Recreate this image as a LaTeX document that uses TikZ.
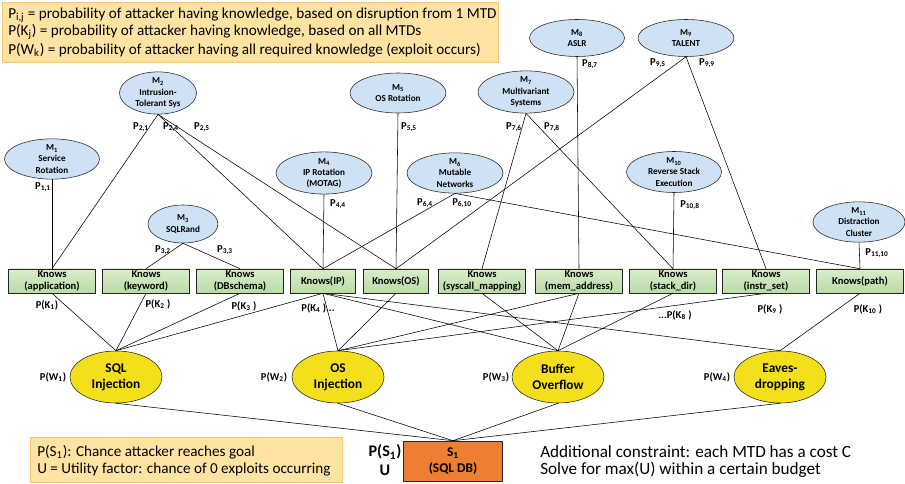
\documentclass[tikz,border=0pt]{standalone}
\usepackage{fontspec}
\setmainfont{Carlito}
\usetikzlibrary{shapes.geometric}

\definecolor{mtdblue}{HTML}{CFE1F4}
\definecolor{knowtop}{HTML}{D8EDCB}
\definecolor{knowbot}{HTML}{BADBA5}
\definecolor{expyellow}{HTML}{F3E01A}
\definecolor{goalorange}{HTML}{EE7E30}
\definecolor{notefill}{HTML}{FFE3A3}
\definecolor{noteedge}{HTML}{F9C46B}

\tikzset{
  mtd/.style={ellipse, draw=black!85, fill=mtdblue, inner sep=0pt, align=center,
    minimum width=2.4cm, minimum height=1cm, font=\bfseries\fontsize{6.5}{8}\selectfont},
  knows/.style={rectangle, draw=black!85, top color=knowtop, bottom color=knowbot, inner sep=0pt,
    align=center, minimum width=2.17cm, minimum height=0.6cm, font=\bfseries\fontsize{7.5}{8.6}\selectfont},
  exploit/.style={ellipse, draw=black!85, fill=expyellow, inner sep=0pt, align=center,
    minimum width=2.3cm, minimum height=1.3cm, font=\bfseries\fontsize{9.5}{11.5}\selectfont},
  goal/.style={rectangle, draw=black!85, fill=goalorange, inner sep=0pt, align=center,
    minimum width=2.475cm, minimum height=1cm, font=\bfseries\fontsize{9.5}{11}\selectfont},
  note/.style={draw=noteedge, fill=notefill},
  plab/.style={inner sep=0pt, font=\bfseries\fontsize{7.5}{9}\selectfont},
  txt/.style={inner sep=0pt, anchor=west, font=\fontsize{10.8}{12}\selectfont},
}

\begin{document}
\begin{tikzpicture}[x=0.025cm, y=-0.025cm]
    \useasboundingbox (0,0) rectangle (905,484);

    % legends
    \draw[note] (2,2) rectangle (498,62);
    \node[txt] (def1) at (8,15) {P\textsubscript{i,j} = probability of attacker having knowledge, based on disruption from 1 MTD};
    \node[txt] (def2) at (8,32) {P(K\textsubscript{j}) = probability of attacker having knowledge, based on all MTDs};
    \node[txt] (def3) at (8,50) {P(W\textsubscript{k}) = probability of attacker having all required knowledge (exploit occurs)};

    \draw[note] (30,437) rectangle (342,482);
    \node[txt] (goaldef) at (37,452) {P(S\textsubscript{1}): Chance attacker reaches goal};
    \node[txt] (utildef) at (37,470) {U = Utility factor: chance of 0 exploits occurring};

    \node[txt, font=\fontsize{12.2}{14}\selectfont] (cost) at (540,452) {Additional constraint: each MTD has a cost C};
    \node[txt, font=\fontsize{12.2}{14}\selectfont] (budget) at (540,470) {Solve for max(U) within a certain budget};

    % moving target defenses
    \node[mtd, minimum width=2.375cm, minimum height=0.875cm] (m1) at (52,159) {M\textsubscript{1}\\Service\\Rotation};
    \node[mtd, minimum width=1.925cm] (m2) at (158,93) {M\textsubscript{2}\\Intrusion-\\Tolerant Sys};
    \node[mtd, minimum width=1.75cm, minimum height=0.95cm] (m3) at (183,224) {M\textsubscript{3}\\SQLRand};
    \node[mtd, minimum width=2.4cm, minimum height=1.05cm] (m4) at (324,173) {M\textsubscript{4}\\IP Rotation\\(MOTAG)};
    \node[mtd] (m5) at (398,93) {M\textsubscript{5}\\OS Rotation};
    \node[mtd, minimum height=0.925cm] (m6) at (455,173) {M\textsubscript{6}\\Mutable\\Networks};
    \node[mtd] (m7) at (526,92) {M\textsubscript{7}\\Multivariant\\Systems};
    \node[mtd, minimum width=2.375cm, minimum height=0.925cm] (m8) at (577,38) {M\textsubscript{8}\\ASLR};
    \node[mtd, minimum height=0.925cm] (m9) at (686,38) {M\textsubscript{9}\\TALENT};
    \node[mtd, minimum width=2.375cm, minimum height=1.025cm] (m10) at (674,172) {M\textsubscript{10}\\Reverse Stack\\Execution};
    \node[mtd, minimum width=2.3cm] (m11) at (859,222) {M\textsubscript{11}\\Distraction\\Cluster};

    % knowledge
    \node[knows] (k1) at (52,281) {Knows\\(application)};
    \node[knows] (k2) at (146,281) {Knows\\(keyword)};
    \node[knows] (k3) at (240,281) {Knows\\(DBschema)};
    \node[knows, minimum width=1.63cm] (k4) at (323,281) {Knows(IP)};
    \node[knows, minimum width=1.63cm] (k5) at (396,281) {Knows(OS)};
    \node[knows] (k6) at (482,281) {Knows\\(syscall\_mapping)};
    \node[knows] (k7) at (579,281) {Knows\\(mem\_address)};
    \node[knows] (k8) at (673,281) {Knows\\(stack\_dir)};
    \node[knows] (k9) at (766,281) {Knows\\(instr\_set)};
    \node[knows] (k10) at (860,281) {Knows(path)};

    % exploits and goal
    \node[exploit] (w1) at (116,377) {SQL\\Injection};
    \node[exploit] (w2) at (338,377) {OS\\Injection};
    \node[exploit] (w3) at (558,377) {Buffer\\Overflow};
    \node[exploit] (w4) at (780,377) {Eaves-\\dropping};
    \node[goal] (s1) at (453,461) {S\textsubscript{1}\\(SQL DB)};

    % MTD -> knowledge
    \draw (m1.south) -- (k1.north);
    \draw (m2.south) -- (k1.north);
    \draw (m2.south) -- (k4.north);
    \draw (m2.south) -- (k5.north);
    \draw (m3.south) -- (k2.north);
    \draw (m3.south) -- (k3.north);
    \draw (m4.south) -- (k4.north);
    \draw (m5.south) -- (k5.north);
    \draw (m6.south) -- (k4.north);
    \draw (m6.south) -- (k10.north);
    \draw (m7.south) -- (k6.north);
    \draw (m7.south) -- (k8.north);
    \draw (m8.south) -- (k7.north);
    \draw (m9.south) -- (k5.north);
    \draw (m9.south) -- (k9.north);
    \draw (m10.south) -- (k8.north);
    \draw (m11.south) -- (k10.north);

    % knowledge -> exploits
    \draw (k1.south) -- (w1.north);
    \draw (k2.south) -- (w1.north);
    \draw (k3.south) -- (w1.north);
    \draw (k4.south) -- (w1.north);
    \draw (k4.south) -- (w2.north);
    \draw (k4.south) -- (w3.north);
    \draw (k4.south) -- (w4.north);
    \draw (k5.south) -- (w2.north);
    \draw (k7.south) -- (w2.north);
    \draw (k9.south) -- (w2.north);
    \draw (k6.south) -- (w3.north);
    \draw (k7.south) -- (w3.north);
    \draw (k8.south) -- (w3.north);
    \draw (k10.south) -- (w4.north);

    % exploits -> goal
    \draw (w1.south) -- (s1.north);
    \draw (w2.south) -- (s1.north);
    \draw (w3.south) -- (s1.north);
    \draw (w4.south) -- (s1.north);

    % probabilities
    \node[plab] (p11) at (43,187) {P\textsubscript{1,1}};
    \node[plab] (p21) at (141,127) {P\textsubscript{2,1}};
    \node[plab] (p24) at (171,127) {P\textsubscript{2,4}};
    \node[plab] (p25) at (202,127) {P\textsubscript{2,5}};
    \node[plab] (p32) at (163,250) {P\textsubscript{3,2}};
    \node[plab] (p33) at (225,250) {P\textsubscript{3,3}};
    \node[plab] (p44) at (338,204) {P\textsubscript{4,4}};
    \node[plab] (p55) at (409,127) {P\textsubscript{5,5}};
    \node[plab] (p64) at (425,203) {P\textsubscript{6,4}};
    \node[plab] (p610) at (462,203) {P\textsubscript{6,10}};
    \node[plab] (p76) at (514,127) {P\textsubscript{7,6}};
    \node[plab] (p78) at (552,127) {P\textsubscript{7,8}};
    \node[plab] (p87) at (590,64) {P\textsubscript{8,7}};
    \node[plab] (p95) at (658,63) {P\textsubscript{9,5}};
    \node[plab] (p99) at (707,63) {P\textsubscript{9,9}};
    \node[plab] (p108) at (690,205) {P\textsubscript{10,8}};
    \node[plab] (p1110) at (877,253) {P\textsubscript{11,10}};

    \node[plab] (pk1) at (47,305) {P(K\textsubscript{1})};
    \node[plab] (pk2) at (158,304) {P(K\textsubscript{2} )};
    \node[plab] (pk3) at (244,306) {P(K\textsubscript{3} )};
    \node[plab] (pk4) at (318,308) {P(K\textsubscript{4} )...};
    \node[plab] (pk8) at (675,315) {...P(K\textsubscript{8} )};
    \node[plab] (pk9) at (770,309) {P(K\textsubscript{9} )};
    \node[plab] (pk10) at (868,309) {P(K\textsubscript{10} )};

    \node[plab] (pw1) at (53,377) {P(W\textsubscript{1})};
    \node[plab] (pw2) at (274,377) {P(W\textsubscript{2})};
    \node[plab] (pw3) at (496,377) {P(W\textsubscript{3})};
    \node[plab] (pw4) at (717,377) {P(W\textsubscript{4})};

    \node[inner sep=0pt, font=\bfseries\fontsize{11.5}{13}\selectfont] (ps1) at (385,452) {P(S\textsubscript{1})};
    \node[inner sep=0pt, font=\bfseries\fontsize{11.5}{13}\selectfont] (u) at (385,470) {U};
\end{tikzpicture}
\end{document}
